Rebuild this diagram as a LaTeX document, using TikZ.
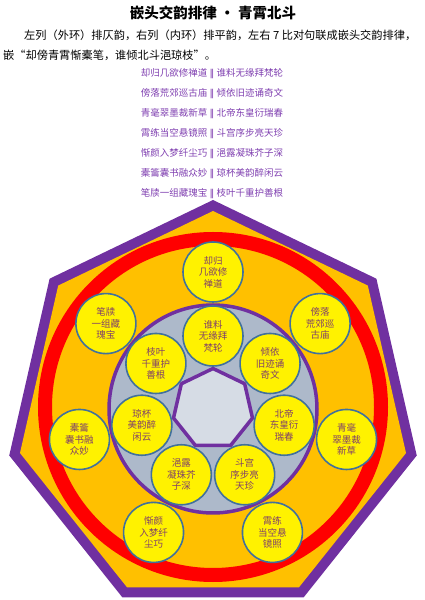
\documentclass[tikz,border=0pt]{standalone}
\usepackage{fontspec}
\setmainfont{Noto Sans CJK SC}
\newfontfamily\symfont{DejaVu Sans}
\usetikzlibrary{positioning}
\definecolor{hpurple}{HTML}{7030A0}
\definecolor{horange}{HTML}{FFC000}
\definecolor{hgray}{HTML}{ADB9CA}
\definecolor{hlight}{HTML}{D6DCE5}
\definecolor{ringblue}{HTML}{41719C}
\definecolor{balltext}{HTML}{80406A}
\definecolor{versetext}{HTML}{7F3FB0}
\newcommand{\dbar}{{\symfont ‖}}

\begin{document}
\begin{tikzpicture}[x=1pt,y=1pt]
\tikzstyle{ball}=[circle, fill=yellow, draw=ringblue, line width=1.6pt,
    minimum size=60pt, inner sep=0pt, align=center, text=balltext,
    font=\fontsize{9.5}{11.5}\selectfont]
\tikzstyle{verse}=[text=versetext, inner sep=0pt, font=\fontsize{9.5}{11}\selectfont]
\useasboundingbox (0,0) rectangle (425,600);
% heading
\node (title) at (213,587) {\fontsize{14.5}{16}\selectfont\bfseries 嵌头交韵排律 • 青霄北斗};
\node (intro1) [anchor=west, inner sep=0pt, font=\fontsize{11.2}{12}\selectfont] at (24,565)
    {左列（外环）排仄韵，右列（内环）排平韵，左右 7 比对句联成嵌头交韵排律，};
\node (intro2) [anchor=west, inner sep=0pt, font=\fontsize{11.2}{12}\selectfont] at (3,545)
    {嵌“却傍青霄惭橐笔，谁倾北斗浥琼枝”。};
% couplets
\node (v1) [verse] at (212,526) {却归几欲修禅道 \dbar{} 谁料无缘拜梵轮};
\node (v2) [verse] at ([yshift=-20pt]v1) {傍落荒郊巡古庙 \dbar{} 倾依旧迹诵奇文};
\node (v3) [verse] at ([yshift=-20pt]v2) {青毫翠墨裁新草 \dbar{} 北帝东皇衍瑞春};
\node (v4) [verse] at ([yshift=-20pt]v3) {霄练当空悬镜照 \dbar{} 斗宫序步亮天珍};
\node (v5) [verse] at ([yshift=-20pt]v4) {惭颜入梦纤尘巧 \dbar{} 浥露凝珠芥子深};
\node (v6) [verse] at ([yshift=-20pt]v5) {橐籥囊书融众妙 \dbar{} 琼杯美韵醉闲云};
\node (v7) [verse] at ([yshift=-20pt]v6) {笔牍一组藏瑰宝 \dbar{} 枝叶千重护善根};
% rings
\begin{scope}[shift={(213,191)}]
\fill[hpurple] (90:209) \foreach \k in {1,...,6}{ -- (90+\k*360/7:209)} -- cycle;
\fill[horange] (90:198) \foreach \k in {1,...,6}{ -- (90+\k*360/7:198)} -- cycle;
\draw[red, line width=14pt] (0,2) circle (168);
\draw[hpurple, line width=3.5pt, fill=hgray] (0,0) circle (104);
\draw[hpurple, line width=3.5pt, fill=hlight, line join=round]
    (90:40.5) \foreach \k in {1,...,6}{ -- (90+\k*360/7:40.5)} -- cycle;
% outer ring
\node (o1) [ball] at (90:137) {却归\\几欲修\\禅道};
\node (o2) [ball] at (38.571:137) {傍落\\荒郊巡\\古庙};
\node (o3) [ball] at (-12.857:137) {青毫\\翠墨裁\\新草};
\node (o4) [ball] at (-64.286:137) {霄练\\当空悬\\镜照};
\node (o5) [ball] at (-115.714:137) {惭颜\\入梦纤\\尘巧};
\node (o6) [ball] at (-167.143:137) {橐籥\\囊书融\\众妙};
\node (o7) [ball] at (141.429:137) {笔牍\\一组藏\\瑰宝};
% inner ring
\node (i1) [ball] at (90:73) {谁料\\无缘拜\\梵轮};
\node (i2) [ball] at (38.571:73) {倾依\\旧迹诵\\奇文};
\node (i3) [ball] at (-12.857:73) {北帝\\东皇衍\\瑞春};
\node (i4) [ball] at (-64.286:73) {斗宫\\序步亮\\天珍};
\node (i5) [ball] at (-115.714:73) {浥露\\凝珠芥\\子深};
\node (i6) [ball] at (-167.143:73) {琼杯\\美韵醉\\闲云};
\node (i7) [ball] at (141.429:73) {枝叶\\千重护\\善根};
\end{scope}
\end{tikzpicture}
\end{document}
